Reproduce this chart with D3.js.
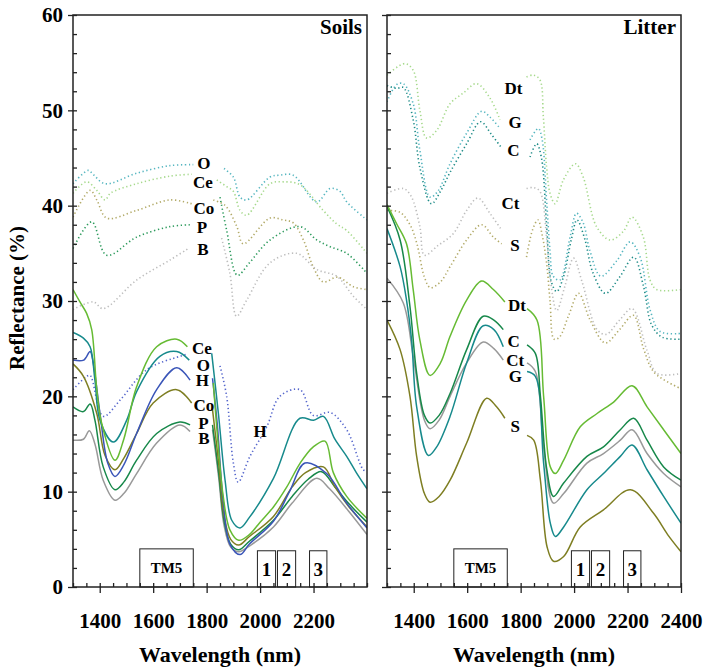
<!DOCTYPE html>
<html>
<head>
<meta charset="utf-8">
<script src="https://cdn.jsdelivr.net/npm/d3@7"></script>
<style>
body { margin: 0; background: #fff; }
svg text { font-family: "Liberation Serif", "Times New Roman", serif; font-weight: bold; fill: #000; }
</style>
</head>
<body>
<svg width="703" height="667"></svg>
<script>
// wavelength (nm), reflectance (%) ; null = break in the curve
const GAP = null;

// ---- Soils, solid
const soilCe = [[1300,31.2],[1326,29.9],[1351,28.7],[1370,27],[1389,20.7],[1407,17.2],[1457,13.3],[1490,15.5],[1538,21],[1613,25.2],[1688,26],[1728,25.2],[1780,GAP],[1825,21.4],[1840,16],[1862,9.5],[1887,6],[1920,4.9],[1960,5.5],[2000,6.8],[2050,8.4],[2100,10.5],[2150,13],[2199,14.7],[2243,15.3],[2274,12],[2324,9.5],[2400,7.2]];
const soilO = [[1300,26.7],[1339,26.1],[1364,25.2],[1382,21.7],[1401,17.5],[1451,15.2],[1501,17.5],[1538,20.5],[1625,24.2],[1688,24.7],[1735,23.8],[1780,GAP],[1819,24.5],[1844,18.2],[1869,11.2],[1894,7],[1925,6.2],[1960,7.3],[2050,11.4],[2149,17.7],[2200,17.5],[2237,17.9],[2280,15.5],[2324,13.7],[2360,12],[2400,10.3]];
const soilH = [[1300,23.8],[1340,23.8],[1364,24.7],[1375,23.6],[1401,18.2],[1430,13],[1457,11.6],[1490,12.8],[1538,16.1],[1613,20.7],[1688,23],[1738,21.7],[1780,GAP],[1822,21.9],[1840,17],[1862,9],[1887,4.5],[1925,3.4],[1960,4.5],[2050,6.9],[2110,10],[2168,13],[2249,11.9],[2324,8.8],[2400,6.2]];
const soilCo = [[1300,23.4],[1339,22.1],[1389,18.2],[1420,13.8],[1457,12.3],[1490,13.5],[1538,16.1],[1600,19.3],[1688,20.7],[1744,19.3],[1780,GAP],[1822,18.6],[1845,13],[1865,7.5],[1890,5],[1920,4.4],[1960,5.3],[2050,7.4],[2120,10.5],[2170,12],[2237,12.6],[2280,10.5],[2330,8.5],[2400,6.3]];
const soilP = [[1300,18.9],[1339,18.4],[1364,19.2],[1382,17.5],[1413,12.6],[1457,10.2],[1490,11],[1538,13.3],[1613,16.1],[1700,17.3],[1738,17],[1780,GAP],[1822,17],[1845,12],[1865,7],[1890,4.5],[1920,3.9],[1960,4.8],[2050,7],[2120,9.5],[2180,11.3],[2230,12.1],[2280,10.5],[2330,8.8],[2400,6.8]];
const soilB = [[1300,15.4],[1339,15.5],[1361,16.4],[1382,15],[1413,11.2],[1457,9.1],[1490,9.8],[1538,11.9],[1613,15.1],[1700,17],[1738,16.3],[1780,GAP],[1822,16.5],[1845,11.5],[1865,6.5],[1890,4.2],[1920,3.7],[1960,4.3],[2050,6.3],[2120,8.8],[2212,11.4],[2260,10.3],[2330,8],[2400,5.5]];
// ---- Soils, dotted
const soilHdot = [[1300,20.7],[1351,22.1],[1364,22.2],[1413,17.9],[1476,19.6],[1576,22.8],[1700,24.2],[1725,24.4],[1790,GAP],[1850,23.2],[1875,20],[1900,13],[1918,11],[1962,13.7],[2025,16.8],[2074,20],[2149,20.7],[2199,18],[2262,18.3],[2324,16.5],[2386,12.3],[2400,12.1]];
const soilOdot = [[1300,42.3],[1357,43.7],[1375,43.3],[1420,42.3],[1538,43.4],[1663,44.2],[1750,44.3],[1800,GAP],[1865,43.9],[1900,43],[1925,40.9],[1950,40.6],[2037,43],[2074,43.2],[2124,43.2],[2212,40.4],[2262,41.8],[2299,41.5],[2324,40.4],[2400,38.5]];
const soilCedot = [[1300,41.3],[1351,42.5],[1389,41.6],[1420,40.6],[1440,41.3],[1538,42.3],[1663,43.1],[1744,43.3],[1790,GAP],[1838,42.7],[1875,42],[1900,41.5],[1925,39.5],[1950,39],[2037,42.3],[2087,42.5],[2149,42.2],[2236,39.5],[2286,38.1],[2324,37.4],[2400,35]];
const soilCodot = [[1300,38.8],[1364,41.6],[1389,40.6],[1426,38.7],[1538,39.5],[1663,40.6],[1744,40.2],[1790,GAP],[1825,40.6],[1870,40],[1913,37.8],[1937,36],[2037,38.7],[2087,38.5],[2124,38.2],[2162,36.4],[2200,33.5],[2236,32],[2290,32.5],[2349,31.5],[2400,31.2]];
const soilPdot = [[1300,35.5],[1370,38.3],[1426,34.8],[1538,36.7],[1663,37.8],[1744,38],[1800,GAP],[1850,40.9],[1875,37.4],[1915,32.7],[1960,34],[2037,36.4],[2149,37.8],[2212,36.4],[2262,35.7],[2324,35],[2400,32.9]];
const soilBdot = [[1300,29.1],[1376,29.9],[1413,29.2],[1538,32.2],[1663,34.3],[1731,35.5],[1800,GAP],[1856,36.6],[1887,32.9],[1912,28.4],[1950,30.1],[2037,34],[2137,35],[2212,33.3],[2287,32.6],[2349,30.5],[2400,29.1]];

// ---- Litter, solid
const litDt = [[1300,40.1],[1336,38.1],[1373,36],[1398,31.2],[1423,25.9],[1461,22.2],[1500,23.5],[1536,26.3],[1598,30.1],[1654,32.1],[1698,31.2],[1741,29.9],[1780,GAP],[1824,29.2],[1861,28],[1886,20],[1911,12.6],[1930,11.9],[1961,13.3],[2023,16.8],[2086,18.2],[2148,19.4],[2217,21.1],[2273,18.9],[2335,16.5],[2400,14]];
const litC = [[1300,39.9],[1349,36.4],[1386,29.4],[1411,22.4],[1440,18],[1461,17.2],[1495,18],[1536,20.3],[1598,24.9],[1660,28.4],[1700,28],[1735,27],[1780,GAP],[1824,25.4],[1855,24.5],[1874,20],[1898,12.3],[1923,9.5],[1961,10.9],[2048,13.7],[2110,14.7],[2173,16.5],[2223,17.7],[2273,15.4],[2335,12.6],[2400,11.2]];
const litCt = [[1300,32.4],[1361,29.8],[1398,24.2],[1440,17.5],[1461,16.6],[1495,17.5],[1536,20],[1598,23.5],[1660,25.7],[1700,25],[1735,23.8],[1780,GAP],[1824,23.5],[1855,22.6],[1886,14.7],[1923,8.8],[1961,9.8],[2048,13],[2110,14],[2173,15.4],[2217,16.5],[2273,14],[2335,11.9],[2400,10.5]];
const litG = [[1300,37.6],[1349,33.6],[1373,30.1],[1392,25.9],[1411,18.9],[1455,13.8],[1486,14.7],[1536,17.9],[1598,23.5],[1660,27.4],[1700,27],[1735,25.2],[1780,GAP],[1824,22.6],[1855,22.1],[1886,13],[1911,6.7],[1930,5.3],[1961,6.3],[2048,10.2],[2110,11.9],[2173,13.7],[2217,14.9],[2273,12.3],[2335,9.5],[2400,6.7]];
const litS = [[1300,28],[1349,24.9],[1386,20],[1411,13.7],[1440,9.8],[1461,8.9],[1495,9.5],[1536,11.2],[1598,15.1],[1673,19.8],[1710,18.9],[1741,17.7],[1780,GAP],[1824,15.9],[1849,15.4],[1874,11.2],[1899,4.2],[1923,2.7],[1961,3.2],[2023,6.3],[2110,8.1],[2211,10.2],[2298,7.7],[2350,5.5],[2400,3.7]];
// ---- Litter, dotted
const litDtDot = [[1300,53.7],[1367,54.9],[1398,54.2],[1423,50],[1448,47.1],[1486,47.9],[1536,50.7],[1585,51.8],[1635,52.8],[1685,51.3],[1723,49],[1780,GAP],[1822,53.5],[1847,53.7],[1872,53.2],[1885,49.3],[1897,44.1],[1910,41.3],[1929,40.2],[1960,42.7],[2005,44.4],[2034,43],[2084,37.8],[2135,36.4],[2184,37.3],[2217,38.8],[2259,36.7],[2284,32.2],[2309,31.2],[2400,31.2]];
const litGdot = [[1300,50.9],[1336,52.7],[1361,52.8],[1398,50.7],[1423,45.8],[1461,40.9],[1490,41.5],[1536,44.4],[1598,47.6],[1654,49.9],[1685,49.3],[1723,48.1],[1790,GAP],[1835,46.9],[1866,48.1],[1880,47],[1897,40.6],[1910,35.3],[1922,32.6],[1947,32.2],[1985,36.7],[2009,39.2],[2034,38.2],[2059,35.3],[2100,32.6],[2159,34.2],[2210,36.2],[2247,34.6],[2285,29],[2322,26.8],[2400,26.6]];
const litCdot = [[1300,52.6],[1336,52.3],[1361,52.4],[1398,49],[1423,44],[1466,40.2],[1500,41.5],[1536,43.5],[1598,46.5],[1650,48.8],[1690,47.5],[1725,46.2],[1790,GAP],[1835,45.1],[1860,46.5],[1878,45],[1897,38],[1915,32],[1935,31],[1960,32.5],[1990,36.5],[2011,38.5],[2040,36.5],[2070,33],[2117,30.8],[2170,32.5],[2223,34.6],[2260,31.5],[2290,27.5],[2330,26.2],[2400,26]];
const litCtDot = [[1300,41.3],[1361,41.8],[1390,41],[1423,37.8],[1440,34.8],[1490,35.8],[1549,37.1],[1598,39.5],[1640,40.8],[1685,39.2],[1730,37.4],[1780,GAP],[1822,41.8],[1847,41.9],[1872,41.5],[1897,36.7],[1910,32.5],[1935,29],[1965,31.5],[1998,34.5],[2030,32],[2086,27],[2120,26.5],[2170,28],[2217,29.2],[2273,24.8],[2310,22.4],[2400,22.4]];
const litSdot = [[1300,39.5],[1349,39.3],[1386,38],[1412,36],[1440,32.5],[1462,31.4],[1500,32],[1536,33.6],[1598,36.4],[1654,38],[1698,36.7],[1729,36],[1780,GAP],[1822,34.6],[1845,37.5],[1865,38.5],[1880,37],[1897,34],[1910,30],[1925,26],[1945,26.2],[1980,28.5],[2017,30.8],[2060,28],[2117,25.6],[2170,27],[2222,28.5],[2260,25],[2300,22.5],[2400,20.8]];

// curve labels (text, wavelength, reflectance)
const soilLabelText = ["O", "Ce", "Co", "P", "B", "Ce", "O", "H", "Co", "P", "B", "H"];
const soilLabelWl = [1790, 1786, 1790, 1782, 1786, 1782, 1788, 1784, 1790, 1788, 1790, 2000];
const soilLabelR = [44.5, 42.5, 39.8, 37.8, 35.5, 25.1, 23.3, 21.7, 19.1, 17.2, 15.6, 16.4];
const litLabelText = ["Dt", "G", "C", "Ct", "S", "Dt", "C", "Ct", "G", "S"];
const litLabelWl = [1773, 1779, 1773, 1762, 1779, 1786, 1774, 1780, 1780, 1780];
const litLabelR = [52.3, 48.8, 45.8, 40.3, 35.9, 29.6, 25.8, 23.8, 22.1, 16.9];

// band boxes
const bandNames = ["TM5", "1", "2", "3"];
const bandStart = [1550, 1990, 2065, 2185];
const bandEnd = [1750, 2058, 2133, 2250];
const bandTop = [4.0, 3.8, 3.8, 3.8];

const yTicks = [0, 10, 20, 30, 40, 50, 60];
const soilXTicks = [1400, 1600, 1800, 2000, 2200];
const litXTicks = [1400, 1600, 1800, 2000, 2200, 2400];

// colours
const C_LGREEN = "#66bb33", C_TEAL = "#178a8c", C_BLUE = "#3a55b8", C_OLIVE = "#7e7e22", C_GREEN = "#17884a", C_GRAY = "#999999";
const D_LGREEN = "#a6d98c", D_CYAN = "#56b6c0", D_DTEAL = "#1f8c88", D_BLUE = "#5566cc", D_OLIVE = "#b2aa68", D_GREEN = "#2c9a5c", D_GRAY = "#bdbdbd";

const soilSeries = [
  { d: soilOdot, c: D_CYAN, dot: true }, { d: soilCedot, c: D_LGREEN, dot: true },
  { d: soilCodot, c: D_OLIVE, dot: true }, { d: soilPdot, c: D_GREEN, dot: true },
  { d: soilBdot, c: D_GRAY, dot: true }, { d: soilHdot, c: D_BLUE, dot: true },
  { d: soilB, c: C_GRAY }, { d: soilP, c: C_GREEN }, { d: soilCo, c: C_OLIVE },
  { d: soilH, c: C_BLUE }, { d: soilO, c: C_TEAL }, { d: soilCe, c: C_LGREEN }
];
const litSeries = [
  { d: litDtDot, c: D_LGREEN, dot: true }, { d: litGdot, c: D_CYAN, dot: true },
  { d: litCdot, c: D_DTEAL, dot: true }, { d: litCtDot, c: D_GRAY, dot: true },
  { d: litSdot, c: D_OLIVE, dot: true },
  { d: litS, c: C_OLIVE }, { d: litCt, c: C_GRAY }, { d: litG, c: C_TEAL },
  { d: litC, c: C_GREEN }, { d: litDt, c: C_LGREEN }
];

const svg = d3.select("svg");
const plotTop = 15, plotBottom = 587;
const y = d3.scaleLinear().domain([0, 60]).range([plotBottom, plotTop]);

const panels = [
  { left: 73, right: 367, title: "Soils", series: soilSeries, lt: soilLabelText, lw: soilLabelWl, lr: soilLabelR, xt: soilXTicks, yLabels: true },
  { left: 387, right: 681, title: "Litter", series: litSeries, lt: litLabelText, lw: litLabelWl, lr: litLabelR, xt: litXTicks, yLabels: false }
];

panels.forEach((p, i) => {
  const x = d3.scaleLinear().domain([1300, 2400]).range([p.left, p.right]);
  const g = svg.append("g");

  g.append("clipPath").attr("id", "clip" + i)
    .append("rect").attr("x", p.left).attr("y", plotTop)
    .attr("width", p.right - p.left).attr("height", plotBottom - plotTop);

  const line = d3.line()
    .defined(d => d[1] !== null)
    .x(d => x(d[0])).y(d => y(d[1]))
    .curve(d3.curveCatmullRom.alpha(0.5));

  const lines = g.append("g").attr("clip-path", `url(#clip${i})`);
  p.series.forEach(s => {
    lines.append("path")
      .attr("d", line(s.d))
      .attr("fill", "none")
      .attr("stroke", s.c)
      .attr("stroke-width", s.dot ? 1.6 : 1.5)
      .attr("stroke-dasharray", s.dot ? "1.3,2.6" : null);
  });

  // band boxes
  bandNames.forEach((b, k) => {
    g.append("rect")
      .attr("x", x(bandStart[k])).attr("y", y(bandTop[k]))
      .attr("width", x(bandEnd[k]) - x(bandStart[k]))
      .attr("height", y(0) - y(bandTop[k]))
      .attr("fill", "#fff").attr("stroke", "#222").attr("stroke-width", 1);
    g.append("text")
      .attr("x", (x(bandStart[k]) + x(bandEnd[k])) / 2)
      .attr("y", (y(bandTop[k]) + y(0)) / 2)
      .attr("dy", "0.36em")
      .attr("text-anchor", "middle")
      .style("font-size", k === 0 ? "15px" : "19px")
      .text(b);
  });

  // curve labels
  p.lt.forEach((t, k) => {
    g.append("text")
      .attr("x", x(p.lw[k])).attr("y", y(p.lr[k]))
      .attr("dy", "0.35em").attr("text-anchor", "middle")
      .style("font-size", "17px")
      .text(t);
  });

  // frame
  g.append("rect")
    .attr("x", p.left).attr("y", plotTop)
    .attr("width", p.right - p.left).attr("height", plotBottom - plotTop)
    .attr("fill", "none").attr("stroke", "#222").attr("stroke-width", 1.5);

  // y axis: major outside, minor inside
  const yMajor = g.append("g").attr("transform", `translate(${p.left},0)`)
    .call(d3.axisLeft(y).tickValues(yTicks).tickSize(5).tickPadding(5)
      .tickFormat(p.yLabels ? d3.format("d") : () => ""));
  const yMinor = g.append("g").attr("transform", `translate(${p.left},0)`)
    .call(d3.axisRight(y).tickValues(d3.range(0, 61, 2)).tickSize(4).tickFormat(() => ""));

  // x axis: major outside, minor inside
  const xMajor = g.append("g").attr("transform", `translate(0,${plotBottom})`)
    .call(d3.axisBottom(x).tickValues(p.xt).tickSize(6).tickPadding(20).tickFormat(d3.format("d")));
  const xMinor = g.append("g").attr("transform", `translate(0,${plotBottom})`)
    .call(d3.axisTop(x).tickValues(d3.range(1300, 2401, 50)).tickSize(4).tickFormat(() => ""));

  [yMajor, yMinor, xMajor, xMinor].forEach(a => {
    a.select(".domain").remove();
    a.selectAll("line").attr("stroke", "#222").attr("stroke-width", 1.3);
    a.selectAll("text").attr("font-family", null).attr("font-size", null)
      .style("font-size", "21px").attr("fill", "#000");
  });

  // panel title
  g.append("text")
    .attr("x", p.right - 5).attr("y", 34)
    .attr("text-anchor", "end")
    .style("font-size", "21px")
    .text(p.title);

  // x axis title
  g.append("text")
    .attr("x", (p.left + p.right) / 2).attr("y", 662)
    .attr("text-anchor", "middle")
    .style("font-size", "22px")
    .text("Wavelength (nm)");
});

svg.append("text")
  .attr("transform", "translate(24,298) rotate(-90)")
  .attr("text-anchor", "middle")
  .style("font-size", "21px")
  .text("Reflectance (%)");
</script>
</body>
</html>
